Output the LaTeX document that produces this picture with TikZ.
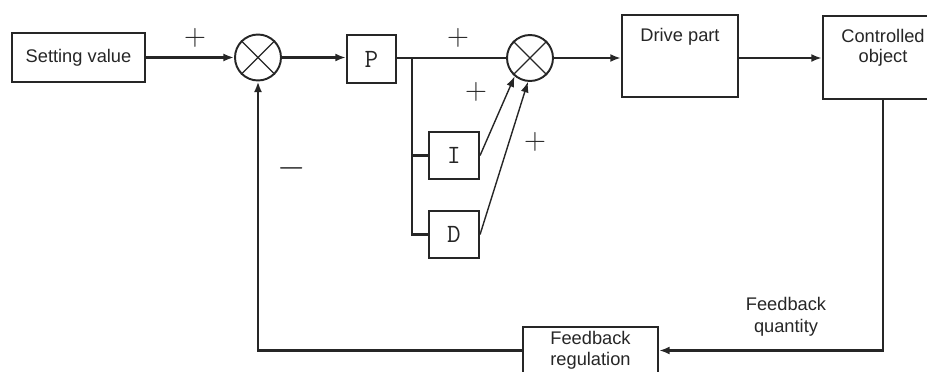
\documentclass[tikz,border=0pt]{standalone}
\usepackage{fontspec}
\setmainfont{Liberation Sans}
\usetikzlibrary{arrows.meta,positioning,calc}
\definecolor{ink}{HTML}{262626}
\tikzset{
  blk/.style={rectangle, draw=ink, line width=1.2pt, inner sep=0pt, text=ink, align=center,
    font=\fontsize{10.4}{12}\selectfont},
  sumc/.style={circle, draw=ink, line width=1.1pt, inner sep=0pt, minimum size=0.92cm},
  pid/.style={blk, minimum width=1cm, minimum height=0.94cm, font=\fontsize{15}{15}\selectfont\ttfamily},
  toptext/.style={anchor=north, inner sep=0pt, yshift=-0.28cm, align=center, text=ink,
    font=\fontsize{10.4}{11.6}\selectfont},
  txt/.style={inner sep=0pt, align=center, text=ink, font=\fontsize{10.4}{12.4}\selectfont},
  wire/.style={line width=1.2pt, draw=ink},
  link/.style={-{Latex[length=6pt,width=4.5pt]}, line width=1.2pt, draw=ink},
  thinlink/.style={-{Latex[length=6pt,width=4.5pt]}, line width=0.8pt, draw=ink},
  sgn/.style={inner sep=0pt, text=ink, font=\fontsize{19}{19}\selectfont},
}
\newcommand{\sumcross}[1]{\draw[ink, line width=0.7pt] (#1.north west) -- (#1.south east) (#1.north east) -- (#1.south west);}

\begin{document}
\begin{tikzpicture}[x=0.02cm, y=-0.02cm]
  \useasboundingbox (0,0) rectangle (927,372);
  % forward path
  \node[blk, minimum width=2.66cm, minimum height=0.98cm] (set) at (78.5,57.5) {Setting value};
  \node[sumc] (sum1) at (258,57.5) {};
  \node[pid, minimum width=0.98cm, minimum height=0.96cm] (p) at (371.5,59) {P};
  \node[pid] (ictl) at (454,155.5) {I};
  \node[pid] (dctl) at (454,234.5) {D};
  \node[sumc] (sum2) at (530,58) {};
  \node[blk, minimum width=2.32cm, minimum height=1.64cm,
    label={[toptext, name=drivetxt]north:Drive part}] (drive) at (680,56) {};
  \node[blk, minimum width=2.4cm, minimum height=1.66cm,
    label={[toptext, name=planttxt]north:Controlled\\object}] (plant) at (883,57.5) {};
  \node[blk, minimum width=2.7cm, minimum height=0.94cm] (fbreg) at (590.5,350.5) {Feedback\\regulation};
  \node[txt] (fbq) at (786,317) {Feedback\\quantity};
  \sumcross{sum1}
  \sumcross{sum2}
  \coordinate (br) at (412,58);
  \draw[link] (set.east) -- (sum1.west);
  \draw[link] (sum1.east) -- (p.west |- sum1.east);
  \draw[wire] (p.east |- sum2.west) -- (sum2.west);
  \draw[wire] (br) |- (ictl.west);
  \draw[wire] (br) |- (dctl.west);
  \draw[thinlink] (ictl.east) -- (sum2.230);
  \draw[thinlink] (dctl.east) -- (sum2.265);
  \draw[link] (sum2.east) -- (drive.west |- sum2.east);
  \draw[link] (drive.east |- sum2.east) -- (plant.west |- sum2.east);
  % feedback loop
  \draw[link] (plant.south) |- (fbreg.east);
  \draw[link] (fbreg.west) -| (sum1.south);
  % signs
  \node[sgn] (pl1) at (195,38) {$+$};
  \node[sgn] (pl2) at (458,38) {$+$};
  \node[sgn] (pl3) at (476,92) {$+$};
  \node[sgn] (pl4) at (535,142) {$+$};
  \node[sgn, font=\fontsize{22}{22}\selectfont] (mn1) at (292,168) {$-$};
\end{tikzpicture}
\end{document}
